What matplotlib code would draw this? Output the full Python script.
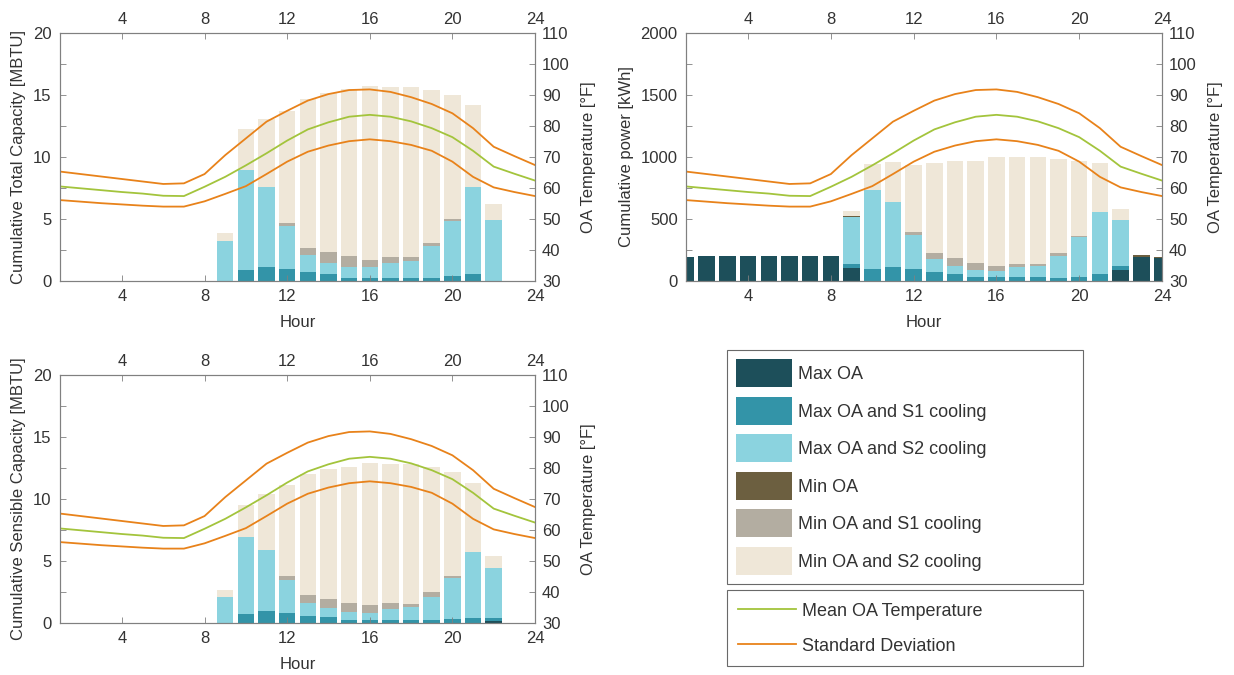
import matplotlib
matplotlib.use("Agg")
import matplotlib.pyplot as plt
import numpy as np

plt.rcParams['font.family'] = ['Liberation Sans', 'DejaVu Sans']
plt.rcParams['font.size'] = 12

hours = list(range(1, 25))
hour_ticks = [4, 8, 12, 16, 20, 24]
temp_ticks = [30, 40, 50, 60, 70, 80, 90, 100, 110]

series_labels = ["Max OA", "Max OA and S1 cooling", "Max OA and S2 cooling",
                 "Min OA", "Min OA and S1 cooling", "Min OA and S2 cooling"]
series_colors = ["#1d4f5a", "#3394a8", "#8bd3df", "#6c5f40", "#b3ada1", "#efe7d8"]

# Temperature statistics (°F)
temp_mean = [60.5, 59.9, 59.3, 58.7, 58.2, 57.5, 57.4, 60.4, 63.6, 67.3, 71.2, 75.3,
             78.9, 81.2, 83.0, 83.6, 83.0, 81.5, 79.3, 76.4, 72.0, 66.9, 64.6, 62.4]
temp_upper = [65.3, 64.5, 63.7, 62.9, 62.1, 61.3, 61.5, 64.5, 70.6, 76.0, 81.4, 84.9,
              88.2, 90.3, 91.6, 91.8, 91.0, 89.3, 87.1, 84.1, 79.3, 73.3, 70.3, 67.4]
temp_lower = [56.1, 55.6, 55.1, 54.7, 54.3, 54.0, 54.0, 55.7, 58.1, 60.6, 64.5, 68.5,
              71.7, 73.7, 75.1, 75.7, 75.1, 73.9, 72.0, 68.5, 63.6, 60.2, 58.7, 57.4]

# Total capacity [MBTU]
tot_max_oa = [0]*24
tot_max_s1 = [0, 0, 0, 0, 0, 0, 0, 0, 0, 0.89, 1.10, 0.97, 0.73, 0.59, 0.27, 0.27,
              0.27, 0.27, 0.27, 0.43, 0.59, 0, 0, 0]
tot_max_s2 = [0, 0, 0, 0, 0, 0, 0, 0, 3.20, 8.06, 6.48, 3.47, 1.37, 0.89, 0.83, 0.83,
              1.21, 1.34, 2.58, 4.44, 6.99, 4.95, 0, 0]
tot_min_oa = [0]*24
tot_min_s1 = [0, 0, 0, 0, 0, 0, 0, 0, 0, 0, 0, 0.21, 0.59, 0.83, 0.92, 0.59,
              0.46, 0.33, 0.21, 0.13, 0, 0, 0, 0]
tot_min_s2 = [0, 0, 0, 0, 0, 0, 0, 0, 0.65, 3.31, 5.46, 9.05, 11.99, 12.82, 13.44, 14.04,
              13.73, 13.73, 12.37, 10.00, 6.59, 1.26, 0, 0]

# Power [kWh]
pw_max_oa = [191, 204, 204, 204, 204, 204, 204, 204, 102, 0, 0, 0, 0, 0, 0, 0,
             0, 0, 0, 0, 0, 91, 194, 183]
pw_max_s1 = [0, 0, 0, 0, 0, 0, 0, 0, 32, 97, 110, 97, 73, 56, 30, 30,
             30, 30, 27, 35, 56, 33, 0, 0]
pw_max_s2 = [0, 0, 0, 0, 0, 0, 0, 0, 382, 637, 527, 274, 104, 68, 59, 51,
             80, 94, 177, 320, 500, 368, 0, 0]
pw_min_oa = [0, 0, 0, 0, 0, 0, 0, 0, 6, 0, 0, 0, 0, 0, 0, 0,
             0, 0, 0, 0, 0, 0, 13, 11]
pw_min_s1 = [0, 0, 0, 0, 0, 0, 0, 0, 0, 0, 0, 24, 46, 61, 59, 43,
             27, 13, 19, 5, 0, 0, 0, 0]
pw_min_s2 = [0, 0, 0, 0, 0, 0, 0, 0, 43, 207, 323, 543, 731, 785, 822, 879,
             866, 866, 764, 610, 393, 86, 0, 0]

# Sensible capacity [MBTU]
sen_max_oa = [0, 0, 0, 0, 0, 0, 0, 0, 0, 0, 0, 0, 0, 0, 0, 0,
              0, 0, 0, 0, 0, 0.15, 0, 0]
sen_max_s1 = [0, 0, 0, 0, 0, 0, 0, 0, 0, 0.75, 0.97, 0.81, 0.57, 0.49, 0.22, 0.22,
              0.22, 0.22, 0.22, 0.30, 0.43, 0.28, 0, 0]
sen_max_s2 = [0, 0, 0, 0, 0, 0, 0, 0, 2.13, 6.16, 4.94, 2.67, 1.08, 0.70, 0.67, 0.62,
              0.89, 1.05, 1.91, 3.34, 5.32, 3.97, 0, 0]
sen_min_oa = [0]*24
sen_min_s1 = [0, 0, 0, 0, 0, 0, 0, 0, 0, 0, 0, 0.33, 0.64, 0.78, 0.76, 0.59,
              0.48, 0.24, 0.33, 0.17, 0, 0, 0, 0]
sen_min_s2 = [0, 0, 0, 0, 0, 0, 0, 0, 0.52, 2.64, 4.48, 7.34, 9.75, 10.45, 10.93, 11.47,
              11.23, 11.31, 10.12, 8.34, 5.53, 1.03, 0, 0]

TXT = "#333333"
SPINE = "#808080"
GREEN = "#a3c43c"
ORANGE = "#e8821a"
FS = 12
LFS = 13

W, H = 1234, 675
fig = plt.figure(figsize=(W/100, H/100), dpi=100)


def make_panel(rect_px, stacks, ylim, yticks, ylabel):
    l, t, r, b = rect_px
    ax = fig.add_axes([l/W, 1 - b/H, (r-l)/W, (b-t)/H])
    bottom = np.zeros(len(hours))
    handles = []
    for vals, col, lab in zip(stacks, series_colors, series_labels):
        v = np.array(vals, dtype=float)
        bc = ax.bar(hours, v, width=0.8, bottom=bottom, color=col, label=lab,
                    linewidth=0)
        handles.append(bc)
        bottom += v
    ax.set_xlim(1, 24)
    ax.set_ylim(*ylim)
    ax.set_yticks(yticks)
    ax.set_xticks(hour_ticks)
    ax.tick_params(axis='both', length=0, colors=TXT, labelsize=FS, pad=6)
    ax.set_xlabel("Hour", color=TXT, fontsize=FS, labelpad=8)
    ax.set_ylabel(ylabel, color=TXT, fontsize=FS, labelpad=5)
    for s in ax.spines.values():
        s.set_color(SPINE)
        s.set_linewidth(0.8)

    ax2 = ax.twinx()
    l1, = ax2.plot(hours, temp_mean, color=GREEN, lw=1.3, label="Mean OA Temperature")
    l2, = ax2.plot(hours, temp_upper, color=ORANGE, lw=1.3, label="Standard Deviation")
    ax2.plot(hours, temp_lower, color=ORANGE, lw=1.3)
    ax2.set_ylim(30, 110)
    ax2.set_yticks(temp_ticks)
    ax2.xaxis.set_visible(True)
    ax2.tick_params(axis='y', direction='in', left=True, right=True,
                    labelleft=False, labelright=True, length=4, width=0.6,
                    color=SPINE, labelcolor=TXT, labelsize=FS, pad=5)
    ax2.tick_params(axis='x', direction='in', top=True, bottom=True,
                    labeltop=True, labelbottom=False, length=4, width=0.6,
                    color=SPINE, labelcolor=TXT, labelsize=FS, pad=4)
    ax2.set_ylabel("OA Temperature [°F]", color=TXT, fontsize=FS, labelpad=8)
    for s in ax2.spines.values():
        s.set_color(SPINE)
        s.set_linewidth(0.8)
    return handles, [l1, l2]


bar_handles, line_handles = make_panel(
    (60, 33, 535, 281),
    [tot_max_oa, tot_max_s1, tot_max_s2, tot_min_oa, tot_min_s1, tot_min_s2],
    (0, 20), [0, 5, 10, 15, 20], "Cumulative Total Capacity [MBTU]")

make_panel(
    (686, 33, 1162, 281),
    [pw_max_oa, pw_max_s1, pw_max_s2, pw_min_oa, pw_min_s1, pw_min_s2],
    (0, 2000), [0, 500, 1000, 1500, 2000], "Cumulative power [kWh]")

make_panel(
    (60, 375, 535, 623),
    [sen_max_oa, sen_max_s1, sen_max_s2, sen_min_oa, sen_min_s1, sen_min_s2],
    (0, 20), [0, 5, 10, 15, 20], "Cumulative Sensible Capacity [MBTU]")

# Legends
lx0, lx1 = 727, 1083
px = LFS * 100 / 72.0
patch_h = 28 / px
hh = (patch_h - 0.245) / 0.65
leg1 = fig.legend(handles=bar_handles, labels=series_labels,
                  loc='upper left', bbox_to_anchor=(lx0/W, 1 - 351/H, (lx1-lx0)/W, 0.001),
                  mode='expand', fancybox=False, frameon=True, fontsize=LFS,
                  handlelength=56/px, handleheight=hh, labelspacing=9.5/px,
                  handletextpad=6/px, borderpad=9/px, borderaxespad=0.0)
leg1.get_frame().set_edgecolor("#444444")
leg1.get_frame().set_linewidth(0.8)
for t in leg1.get_texts():
    t.set_color(TXT)

leg2 = fig.legend(handles=line_handles, labels=["Mean OA Temperature", "Standard Deviation"],
                  loc='upper left', bbox_to_anchor=(lx0/W, 1 - 591/H, (lx1-lx0)/W, 0.001),
                  mode='expand', fancybox=False, frameon=True, fontsize=LFS,
                  handlelength=58/px, handleheight=1.1, labelspacing=0.88,
                  handletextpad=6/px, borderpad=0.62, borderaxespad=0.0)
leg2.get_frame().set_edgecolor("#444444")
leg2.get_frame().set_linewidth(0.8)
for t in leg2.get_texts():
    t.set_color(TXT)

fig.savefig("out.png", dpi=100)
